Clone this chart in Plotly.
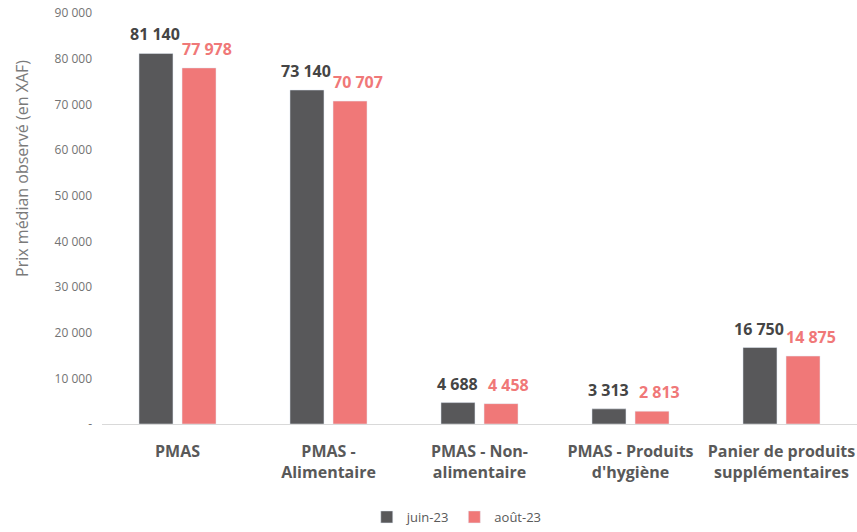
import plotly.graph_objects as go

categories = ["PMAS", "PMAS -<br>Alimentaire", "PMAS - Non-<br>alimentaire",
              "PMAS - Produits<br>d'hygiène", "Panier de produits<br>supplémentaires"]
juin_23 = [81140, 73140, 4688, 3313, 16750]
aout_23 = [77978, 70707, 4458, 2813, 14875]
series_names = ["juin-23", "août-23"]
y_tick_vals = [0, 10000, 20000, 30000, 40000, 50000, 60000, 70000, 80000, 90000]
y_tick_text = ["-", "10 000", "20 000", "30 000", "40 000", "50 000",
               "60 000", "70 000", "80 000", "90 000"]
y_title = "Prix médian observé (en XAF)"

def fmt(v):
    return f"{v:,}".replace(",", " ")

FONT = "Open Sans, Noto Sans, sans-serif"
DARK = "#58585A"
PINK = "#F07878"

fig = go.Figure()
fig.add_trace(go.Bar(x=categories, y=juin_23, name=series_names[0], marker_color=DARK))
fig.add_trace(go.Bar(x=categories, y=aout_23, name=series_names[1], marker_color=PINK))

annotations = []
for cat, v in zip(categories, juin_23):
    annotations.append(dict(x=cat, y=v, text=fmt(v), showarrow=False, xanchor="center",
                            yanchor="bottom", xshift=-22.5, yshift=6,
                            font=dict(family=FONT, size=16, color="#454545", weight="bold")))
for cat, v in zip(categories, aout_23):
    annotations.append(dict(x=cat, y=v, text=fmt(v), showarrow=False, xanchor="center",
                            yanchor="bottom", xshift=29, yshift=6,
                            font=dict(family=FONT, size=16, color=PINK, weight="bold")))
annotations.append(dict(x=-0.106, y=0.623, xref="paper", yref="paper", text=y_title,
                        textangle=-90, showarrow=False, xanchor="center", yanchor="middle",
                        font=dict(family=FONT, size=16, color="#7A7A7A")))

fig.update_layout(
    width=857, height=532,
    margin=dict(l=102, r=0, t=13, b=108),
    paper_bgcolor="white", plot_bgcolor="white",
    barmode="group", bargap=0.43, bargroupgap=0.21,
    font=dict(family=FONT, color="#595959"),
    showlegend=True,
    legend=dict(orientation="h", x=0.533, xref="container", xanchor="center",
                y=-0.022, yref="container", yanchor="bottom",
                font=dict(size=13, color="#595959"),
                traceorder="normal", itemwidth=30, tracegroupgap=0),
    annotations=annotations,
)
fig.update_yaxes(
    range=[0, 90000], tickvals=y_tick_vals, ticktext=y_tick_text,
    showgrid=False, zeroline=False, showline=False, automargin=False,
    tickfont=dict(size=12, color="#737373"),
    ticks="", ticklabelstandoff=9,
)
fig.update_xaxes(
    showgrid=False, showline=True, linecolor="#D9D9D9", linewidth=1, automargin=False,
    tickfont=dict(size=16, color="#595959", weight="bold"),
    ticks="", ticklabelstandoff=13,
)

fig.write_html("out.html", config={"displayModeBar": False},
               post_script="document.body.style.margin='0';")
